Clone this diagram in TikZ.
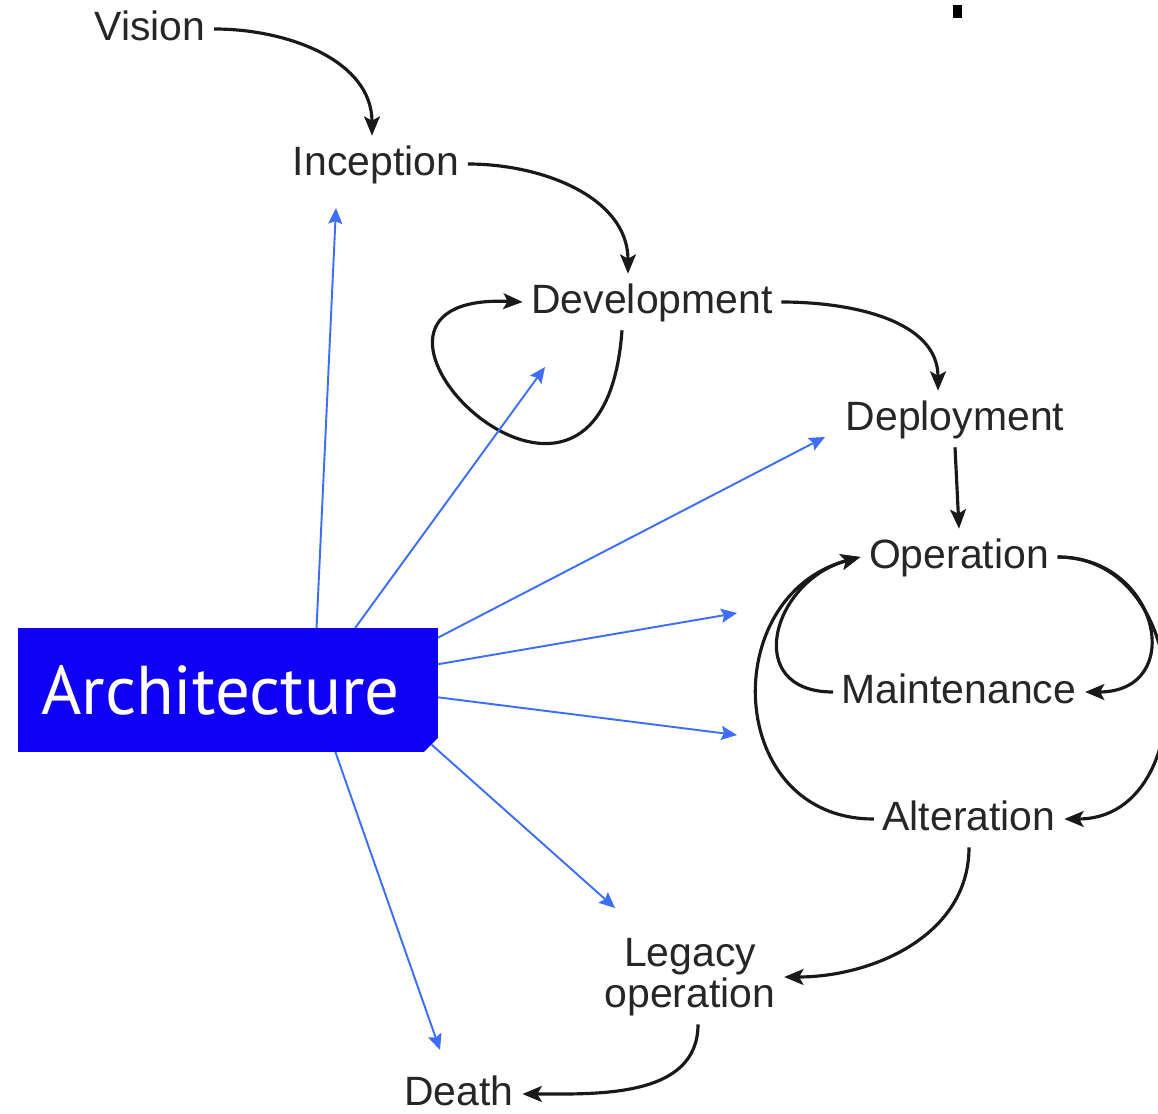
\documentclass[tikz,border=0pt]{standalone}
\usepackage{fontspec}
\setmainfont{Liberation Sans}
\newfontfamily\archfont{PT Sans}
\usetikzlibrary{arrows.meta,shapes.misc}
\definecolor{archblue}{RGB}{15,0,245}
\definecolor{linkblue}{RGB}{60,110,250}
\tikzset{basic/.style={font=\fontsize{23.3}{23}\selectfont,text=black!85,inner sep=3pt,outer sep=2pt}}
\tikzset{phase/.style={basic,text height=17.5pt,text depth=4.7pt}}
\tikzset{twoline/.style={basic,align=center}}
\tikzset{archbox/.style={chamfered rectangle,chamfered rectangle corners=south east,
  chamfered rectangle xsep=4pt,chamfered rectangle ysep=4pt,fill=archblue,text=white,
  minimum width=8.4cm,minimum height=2.48cm,inner sep=0pt,outer sep=0pt,
  font=\archfont\fontsize{39.3}{41}\selectfont}}
\tikzset{flow/.style={draw,black!90,line width=1.8pt,-{Stealth[length=11pt,width=9pt,inset=2.5pt]}}}
\tikzset{link/.style={draw,linkblue,line width=1.1pt,-{Stealth[length=9pt,width=8pt,inset=1.5pt]}}}

\begin{document}
\begin{tikzpicture}[x=0.02cm,y=0.02cm]
        \useasboundingbox (0,0) rectangle (1158,1113);
        % life cycle phases
        \node[phase] (vision) at (150,1084) {Vision};
        \node[phase] (inception) at (376,949) {Inception};
        \node[phase] (development) at (652,811) {Development};
        \node[phase] (deployment) at (955,694) {Deployment};
        \node[phase] (operation) at (959,556) {Operation};
        \node[phase] (maintenance) at (959,421) {Maintenance};
        \node[phase] (alteration) at (969,294) {Alteration};
        \node[twoline] (legacy) at (690,136) {Legacy\\operation};
        \node[phase] (death) at (459,19) {Death};
        \node[fill=black,inner sep=0pt,minimum width=0.18cm,minimum height=0.26cm] (speck) at (957,1101) {};
        % architecture
        \node[archbox] (arch) at (228,423) {Architecture\hspace{0.3cm}\null};
        % flow between phases
        \path[flow] (vision.east) to[out=0,in=90] ([xshift=-0.08cm]inception.north);
        \path[flow] (inception.east) to[out=0,in=90] ([xshift=-0.48cm]development.north);
        \path[flow] ([xshift=-0.6cm]development.south) .. controls +(-20,-275) and +(-230,10) .. (development.west);
        \path[flow] (development.east) to[out=0,in=90] ([xshift=-0.34cm]deployment.north);
        \path[flow] (deployment.south) -- (operation.north);
        \path[flow] (operation.east) to[out=0,in=0,looseness=1.9] (maintenance.east);
        \path[flow] (operation.east) to[out=0,in=0,looseness=1.35] (alteration.east);
        \path[flow] (maintenance.west) to[out=180,in=195,looseness=1.7] (operation.west);
        \path[flow] (alteration.west) to[out=180,in=195,looseness=1.45] (operation.west);
        \path[flow] (alteration.south) to[out=-90,in=0] (legacy.east);
        \path[flow] ([xshift=0.16cm]legacy.south) to[out=-90,in=0] (death.east);
        % architecture links
        \coordinate (to-inception) at (336,905);
        \coordinate (to-development) at (545,746);
        \coordinate (to-deployment) at (825,676);
        \coordinate (to-operation) at (737,500);
        \coordinate (to-alteration) at (737,378);
        \coordinate (to-legacy) at (615,205);
        \coordinate (to-death) at (440,63);
        \path[link] (arch.35) -- (to-inception);
        \path[link] (arch.26) -- (to-development);
        \path[link] (arch.14.7) -- (to-deployment);
        \path[link] (arch.7.6) -- (to-operation);
        \path[link] (arch.-2.7) -- (to-alteration);
        \path[link] (arch.-15) -- (to-legacy);
        \path[link] (arch.-30) -- (to-death);
\end{tikzpicture}
\end{document}
